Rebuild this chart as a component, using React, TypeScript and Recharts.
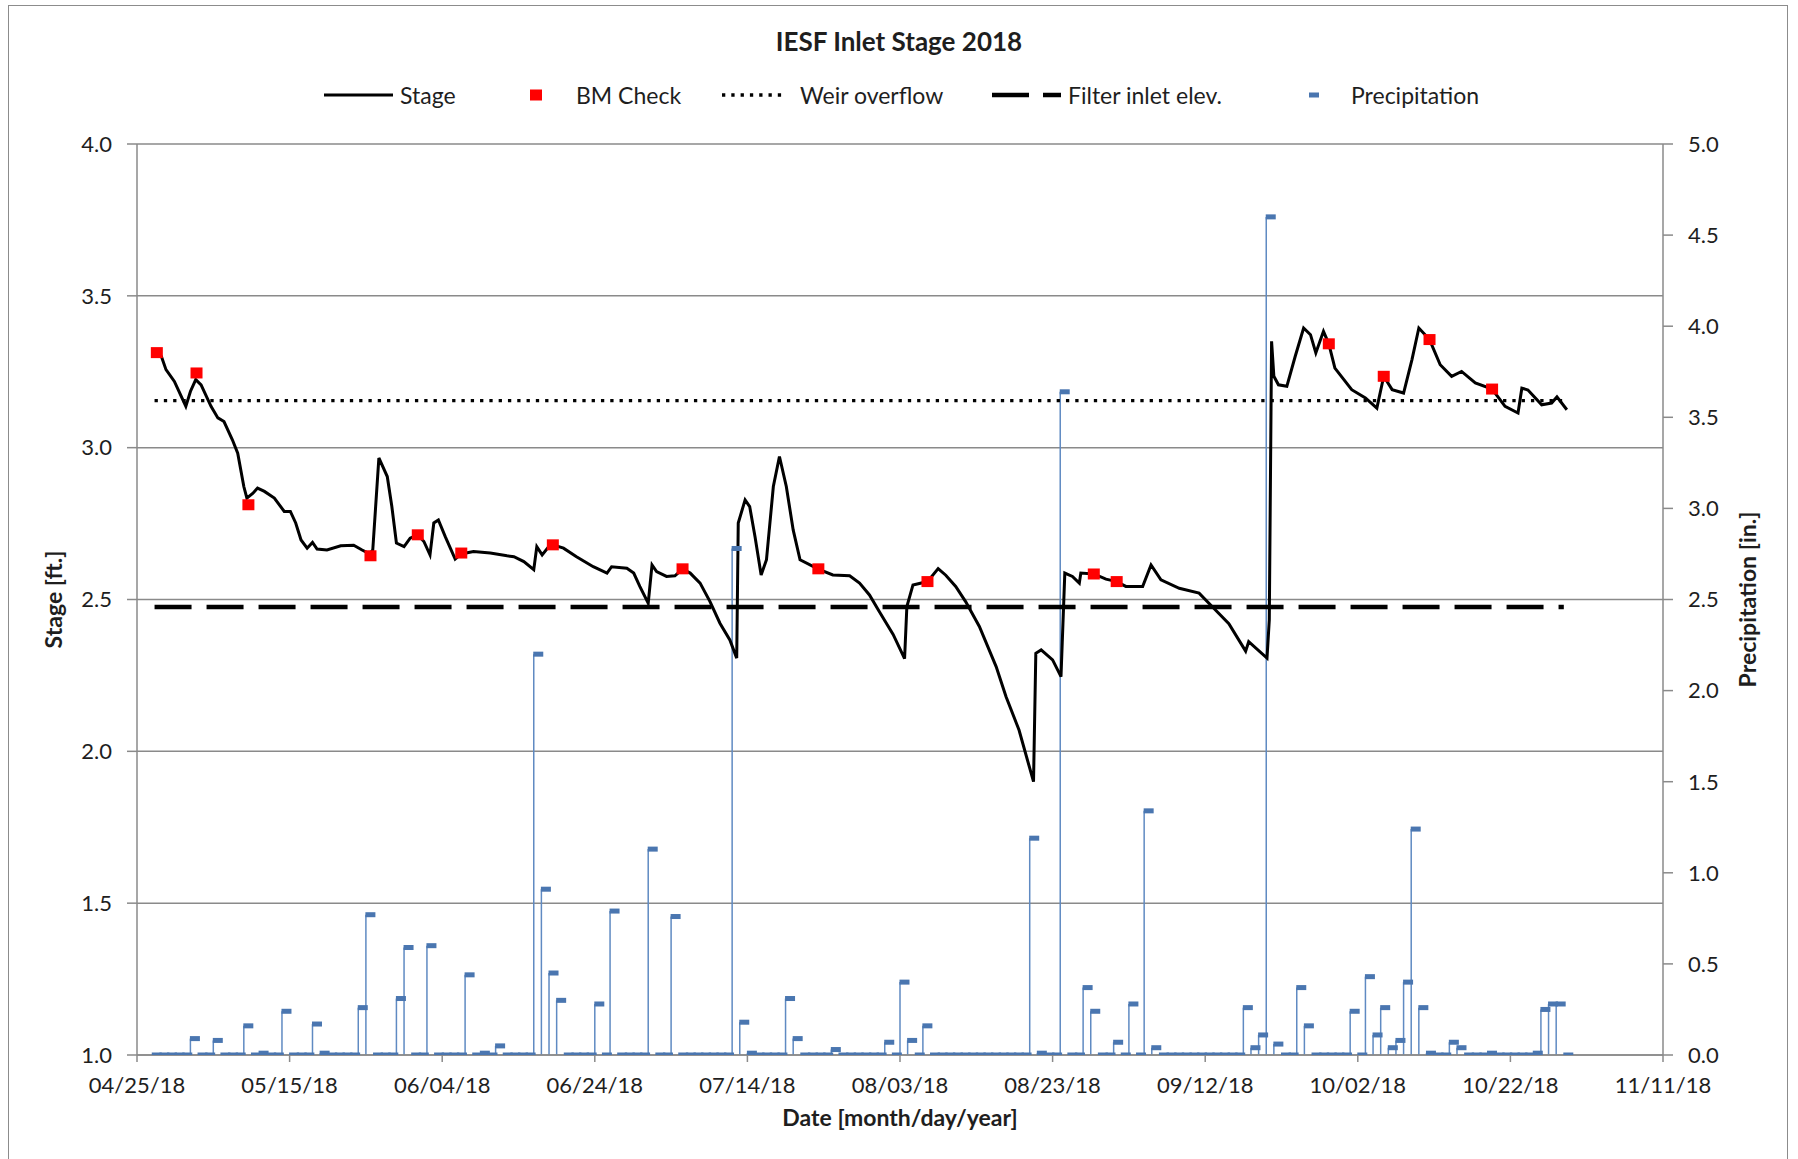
import { ComposedChart, Line, Bar, Scatter, XAxis, YAxis, CartesianGrid } from "recharts";

// day 0 = 04/25/18
const startUtc = Date.UTC(2018, 3, 25);
const xTicks = [0, 20, 40, 60, 80, 100, 120, 140, 160, 180, 200];
const stageTicks = [1, 1.5, 2, 2.5, 3, 3.5, 4];
const precipTicks = [0, 0.5, 1, 1.5, 2, 2.5, 3, 3.5, 4, 4.5, 5];

// Stage [ft.]
const stageDays = [
    2.6, 3.2, 3.8, 4.9, 5.5, 6.4, 7.0, 7.7, 8.4, 9.7, 10.6, 11.4, 12.5, 13.2, 14.0, 14.4, 15.2, 15.8, 16.7, 18.0,
    19.3, 20.1, 20.8, 21.5, 22.3, 23.0, 23.6, 24.9, 26.7, 28.4, 29.5, 30.5, 30.9, 31.7, 32.8, 33.4, 34.0, 35.0, 35.8, 36.8,
    37.6, 38.4, 38.9, 39.5, 40.4, 41.7, 42.5, 44.1, 46.3, 48.5, 49.4, 50.7, 52.0, 52.4, 53.1, 54.0, 54.5, 55.9, 57.6, 59.8,
    61.6, 62.2, 64.2, 65.1, 65.9, 67.0, 67.5, 68.1, 69.4, 70.5, 71.5, 72.5, 73.8, 75.1, 76.4, 77.7, 78.6, 78.8, 79.7, 80.3,
    81.0, 81.8, 82.5, 83.4, 84.2, 85.1, 86.0, 86.9, 89.3, 91.2, 93.4, 94.7, 96.0, 97.3, 99.1, 100.6, 100.9, 101.7, 103.6, 105.0,
    106.0, 107.3, 108.6, 110.4, 112.6, 113.9, 115.6, 117.5, 117.8, 118.5, 120.0, 121.1, 121.6, 122.6, 123.5, 123.7, 125.4, 127.0, 128.4, 129.6,
    131.8, 132.9, 134.2, 136.6, 139.2, 140.9, 143.1, 145.3, 145.7, 148.1, 148.4, 148.7, 149.0, 149.6, 150.7, 151.8, 152.9, 153.8, 154.5, 155.5,
    156.2, 157.0, 159.2, 161.0, 162.5, 163.4, 164.5, 166.0, 167.1, 168.0, 169.4, 170.8, 172.3, 173.6, 175.4, 177.6, 179.3, 181.0, 181.5, 182.3,
    184.1, 185.4, 186.1, 187.4,
];
const stageFt = [
    3.31, 3.30, 3.257, 3.218, 3.185, 3.136, 3.185, 3.224, 3.207, 3.136, 3.098, 3.086, 3.026, 2.982, 2.872, 2.834, 2.85, 2.867, 2.856, 2.834,
    2.79, 2.79, 2.752, 2.696, 2.669, 2.688, 2.666, 2.663, 2.677, 2.679, 2.663, 2.65, 2.663, 2.966, 2.905, 2.806, 2.686, 2.674, 2.702, 2.713,
    2.691, 2.647, 2.752, 2.762, 2.707, 2.633, 2.65, 2.658, 2.653, 2.644, 2.641, 2.625, 2.598, 2.674, 2.647, 2.675, 2.68, 2.669, 2.641, 2.608,
    2.587, 2.608, 2.603, 2.587, 2.543, 2.488, 2.614, 2.592, 2.576, 2.578, 2.60, 2.587, 2.554, 2.493, 2.422, 2.367, 2.307, 2.752, 2.828, 2.806,
    2.707, 2.581, 2.631, 2.872, 2.971, 2.872, 2.729, 2.631, 2.60, 2.581, 2.578, 2.554, 2.515, 2.46, 2.385, 2.305, 2.477, 2.548, 2.559, 2.602,
    2.58, 2.543, 2.493, 2.411, 2.279, 2.18, 2.07, 1.90, 2.323, 2.334, 2.301, 2.246, 2.587, 2.576, 2.554, 2.587, 2.584, 2.567, 2.559, 2.543,
    2.543, 2.614, 2.565, 2.537, 2.521, 2.477, 2.42, 2.33, 2.361, 2.307, 2.433, 3.35, 3.235, 3.207, 3.202, 3.301, 3.394, 3.372, 3.312, 3.383,
    3.342, 3.262, 3.191, 3.164, 3.13, 3.235, 3.191, 3.18, 3.29, 3.394, 3.356, 3.273, 3.235, 3.251, 3.213, 3.193, 3.136, 3.114, 3.196, 3.19,
    3.141, 3.147, 3.167, 3.125,
];

// BM Check [ft.]
const bmDays = [2.6, 7.8, 14.6, 30.6, 36.8, 42.5, 54.5, 71.5, 89.3, 103.6, 125.4, 128.4, 156.2, 163.4, 169.4, 177.6];
const bmFt = [3.313, 3.246, 2.812, 2.644, 2.713, 2.653, 2.68, 2.601, 2.601, 2.559, 2.584, 2.559, 3.342, 3.235, 3.356, 3.193];

// Weir overflow and filter inlet elevation [ft.]
const refDays = [2.3, 187];
const weirFt = 3.155;
const filterFt = 2.475;

// Precipitation [in.], daily record; days not listed read 0.00
const precipFirstDay = 2;
const precipLastDay = 187;
const rainDays = [
    7, 10, 14, 16, 19, 23, 24, 29, 30, 34, 35, 38, 43, 45, 47, 52, 53, 54, 55, 60,
    62, 67, 70, 78, 79, 80, 85, 86, 91, 98, 100, 101, 103, 117, 118, 121, 124, 125, 128, 130,
    132, 133, 145, 146, 147, 148, 149, 152, 153, 159, 161, 162, 163, 164, 165, 166, 167, 168, 169, 172,
    173, 177, 183, 184, 185, 186,
];
const rainInches = [
    0.09, 0.08, 0.16, 0.01, 0.24, 0.17, 0.01, 0.26, 0.77, 0.31, 0.59, 0.6, 0.44, 0.01, 0.05, 2.2, 0.91, 0.45, 0.3, 0.28,
    0.79, 1.13, 0.76, 2.78, 0.18, 0.01, 0.31, 0.09, 0.03, 0.07, 0.4, 0.08, 0.16, 1.19, 0.01, 3.64, 0.37, 0.24, 0.07, 0.28,
    1.34, 0.04, 0.26, 0.04, 0.11, 4.6, 0.06, 0.37, 0.16, 0.24, 0.43, 0.11, 0.26, 0.04, 0.08, 0.4, 1.24, 0.26, 0.01, 0.07,
    0.04, 0.01, 0.01, 0.25, 0.28, 0.28,
];

const precipData: { d: number; p: number }[] = [];
for (let d = precipFirstDay; d <= precipLastDay; d++) {
    const i = rainDays.indexOf(d);
    precipData.push({ d, p: i >= 0 ? rainInches[i] : 0 });
}
const stageData = stageDays.map((d, i) => ({ d, s: stageFt[i] }));
const bmData = bmDays.map((d, i) => ({ d, s: bmFt[i] }));
const weirData = refDays.map((d) => ({ d, s: weirFt }));
const filterData = refDays.map((d) => ({ d, s: filterFt }));

const pad = (n: number) => String(n).padStart(2, "0");
const fmtDate = (day: number) => {
    const dt = new Date(startUtc + day * 86400000);
    return `${pad(dt.getUTCMonth() + 1)}/${pad(dt.getUTCDate())}/${String(dt.getUTCFullYear()).slice(2)}`;
};

const GRID = "#8a8a8a";
const TEXT = "#1e1e1e";
const PRECIP_LINE = "#5f8ac2";
const PRECIP_MARK = "#4a76b0";

// vertical drop from each day's total to zero
const PrecipStem = (props: any) => {
    const { x, y, width, height } = props;
    if (!(height > 0.5)) return <g />;
    const cx = x + width / 2;
    return <line x1={cx} x2={cx} y1={y} y2={y + height} stroke={PRECIP_LINE} strokeWidth={1.5} />;
};

// dash marker for each day, zeros included
const PrecipDash = (props: any) => {
    const { cx, cy, index } = props;
    if (cx == null || cy == null) return <g key={index} />;
    return <rect key={index} x={cx - 0.5} y={cy - 2.5} width={10} height={5} fill={PRECIP_MARK} />;
};

const BmSquare = (props: any) => <rect x={props.cx - 6} y={props.cy - 5.5} width={12} height={11} fill="#ff0000" />;

const tickStyle = { fontSize: 22, fill: TEXT, fontFamily: "Lato" };
const titleStyle = { fontSize: 23, fontWeight: 700, fill: TEXT, fontFamily: "Lato", textAnchor: "middle" as const };

export default function App() {
    return (
        <div style={{ position: "absolute", left: 0, top: 0, width: 1798, height: 1159, overflow: "hidden", background: "#fff", fontFamily: "Lato, sans-serif" }}>
            <div style={{ position: "absolute", left: 8, top: 5, width: 1780, height: 1170, border: "1px solid #8c8c8c", boxSizing: "border-box" }} />
            <div style={{ position: "absolute", left: 0, top: 0 }}>
                <ComposedChart width={1798} height={1159} data={precipData} margin={{ top: 144, right: 0, bottom: 24, left: 0 }}>
                    <CartesianGrid yAxisId="left" vertical={false} stroke={GRID} strokeWidth={1.5} />
                    <XAxis
                        dataKey="d"
                        type="number"
                        domain={[0, 200]}
                        ticks={xTicks}
                        interval={0}
                        allowDataOverflow
                        tickFormatter={fmtDate}
                        height={80}
                        stroke={GRID}
                        strokeWidth={1.5}
                        tickSize={7}
                        tickMargin={15}
                        tick={tickStyle}
                        label={{ value: "Date [month/day/year]", position: "insideBottom", offset: 9, style: titleStyle }}
                    />
                    <YAxis
                        yAxisId="left"
                        type="number"
                        domain={[1, 4]}
                        ticks={stageTicks}
                        interval={0}
                        allowDataOverflow
                        tickFormatter={(v) => v.toFixed(1)}
                        width={137}
                        stroke={GRID}
                        strokeWidth={1.5}
                        tickSize={10}
                        tickMargin={15}
                        tick={tickStyle}
                        label={{ value: "Stage [ft.]", angle: -90, position: "insideLeft", offset: 54, style: titleStyle }}
                    />
                    <YAxis
                        yAxisId="right"
                        orientation="right"
                        type="number"
                        domain={[0, 5]}
                        ticks={precipTicks}
                        interval={0}
                        allowDataOverflow
                        tickFormatter={(v) => v.toFixed(1)}
                        width={135}
                        stroke={GRID}
                        strokeWidth={1.5}
                        tickSize={10}
                        tickMargin={15}
                        tick={tickStyle}
                        label={{ value: "Precipitation [in.]", angle: -90, position: "insideRight", offset: 50, style: titleStyle }}
                    />
                    <Bar yAxisId="right" dataKey="p" shape={PrecipStem} isAnimationActive={false} />
                    <Line yAxisId="right" dataKey="p" stroke="none" dot={PrecipDash} activeDot={false} isAnimationActive={false} />
                    <Line yAxisId="left" data={weirData} dataKey="s" stroke="#000" strokeWidth={3.3} strokeDasharray="3.3 6" dot={false} activeDot={false} isAnimationActive={false} />
                    <Line yAxisId="left" data={filterData} dataKey="s" stroke="#000" strokeWidth={4.5} strokeDasharray="37 15" dot={false} activeDot={false} isAnimationActive={false} />
                    <Line yAxisId="left" data={stageData} dataKey="s" stroke="#000" strokeWidth={3} dot={false} activeDot={false} isAnimationActive={false} />
                    <Scatter yAxisId="left" data={bmData} dataKey="s" shape={BmSquare} isAnimationActive={false} />
                </ComposedChart>
            </div>
            <svg width={1798} height={130} style={{ position: "absolute", left: 0, top: 0 }} fontFamily="Lato">
                <text x={899} y={41} textAnchor="middle" dominantBaseline="central" fontSize={26} fontWeight={700} fill={TEXT}>
                    IESF Inlet Stage 2018
                </text>
                <line x1={324} x2={393} y1={95} y2={95} stroke="#000" strokeWidth={3} />
                <text x={400} y={95} dominantBaseline="central" fontSize={23} fill={TEXT}>Stage</text>
                <rect x={530} y={89.5} width={12} height={11} fill="#ff0000" />
                <text x={576} y={95} dominantBaseline="central" fontSize={23} fill={TEXT}>BM Check</text>
                <line x1={722} x2={786} y1={95} y2={95} stroke="#000" strokeWidth={3.3} strokeDasharray="3.3 6" />
                <text x={800} y={95} dominantBaseline="central" fontSize={23} fill={TEXT}>Weir overflow</text>
                <line x1={992} x2={1061} y1={95} y2={95} stroke="#000" strokeWidth={4.5} strokeDasharray="37 14" />
                <text x={1068} y={95} dominantBaseline="central" fontSize={23} fill={TEXT}>Filter inlet elev.</text>
                <rect x={1309} y={92.5} width={10} height={5} fill={PRECIP_MARK} />
                <text x={1351} y={95} dominantBaseline="central" fontSize={23} fill={TEXT}>Precipitation</text>
            </svg>
        </div>
    );
}
